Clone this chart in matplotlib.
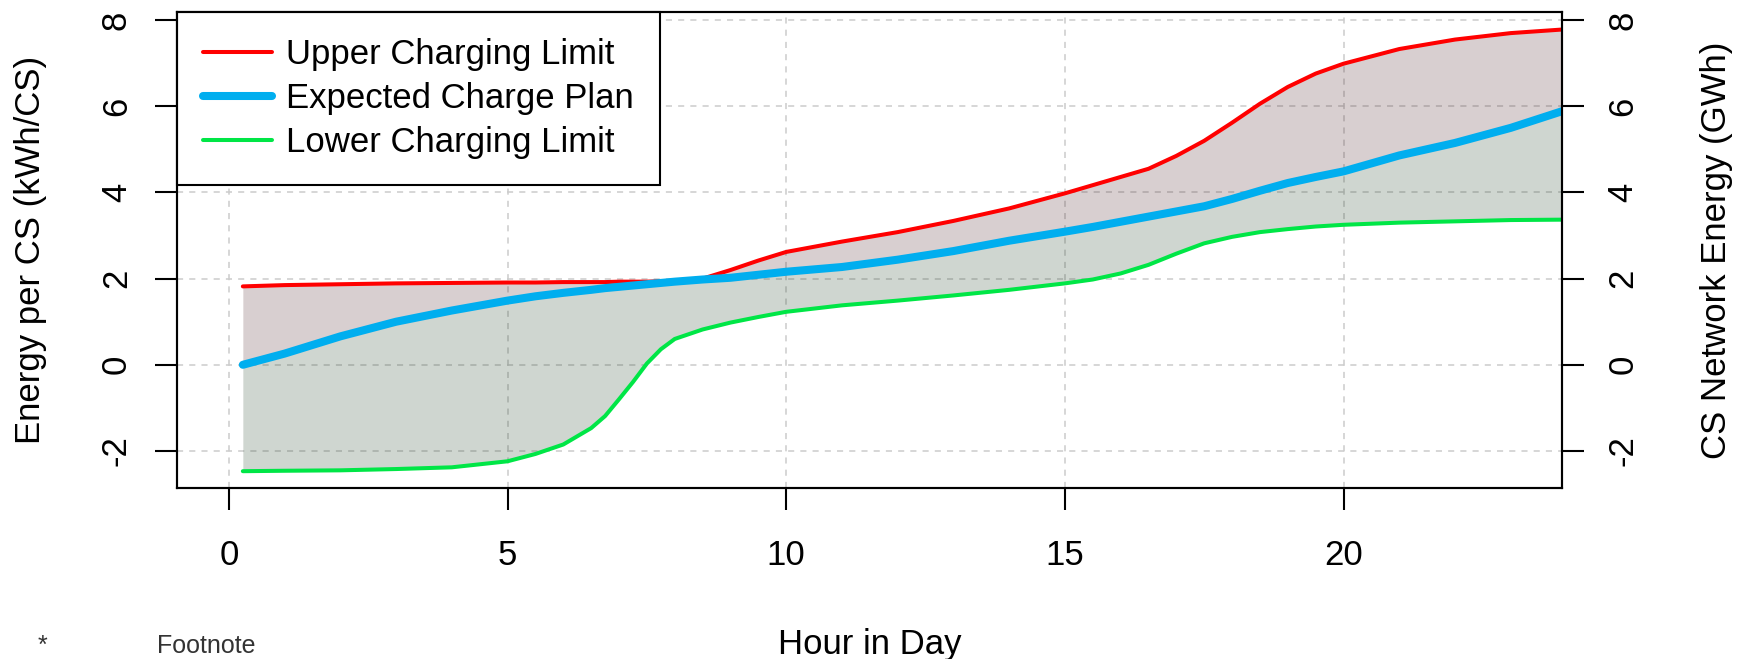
import matplotlib
matplotlib.use("Agg")
from matplotlib import pyplot as plt

plt.rcParams['font.family'] = ['Liberation Sans', 'DejaVu Sans']
plt.rcParams['axes.unicode_minus'] = False

# hour of day and the three curves (kWh per CS)
hours = [0.25, 1, 2, 3, 4, 5, 5.5, 6, 6.5, 6.75, 7, 7.25, 7.5, 7.75, 8, 8.5, 9, 9.5,
         10, 11, 12, 13, 14, 15, 15.5, 16, 16.5, 17, 17.5, 18, 18.5, 19, 19.5, 20,
         21, 22, 23, 24]
upper = [1.82, 1.85, 1.87, 1.89, 1.90, 1.91, 1.91, 1.92, 1.92, 1.92, 1.93, 1.93, 1.93,
         1.94, 1.95, 2.00, 2.20, 2.42, 2.62, 2.86, 3.08, 3.34, 3.63, 3.98, 4.17, 4.36,
         4.55, 4.85, 5.20, 5.62, 6.06, 6.45, 6.76, 6.99, 7.33, 7.55, 7.70, 7.79]
expected = [0.0, 0.26, 0.66, 1.0, 1.26, 1.49, 1.59, 1.67, 1.74, 1.78, 1.81, 1.84, 1.87,
            1.90, 1.93, 1.98, 2.02, 2.09, 2.16, 2.27, 2.44, 2.64, 2.88, 3.09, 3.20, 3.32,
            3.44, 3.56, 3.68, 3.85, 4.04, 4.22, 4.36, 4.49, 4.86, 5.15, 5.50, 5.92]
lower = [-2.47, -2.46, -2.45, -2.42, -2.38, -2.24, -2.07, -1.85, -1.47, -1.19, -0.80,
         -0.40, 0.03, 0.36, 0.60, 0.82, 0.98, 1.11, 1.23, 1.38, 1.49, 1.61, 1.74, 1.89,
         1.98, 2.12, 2.32, 2.58, 2.82, 2.97, 3.08, 3.15, 3.21, 3.25, 3.30, 3.33, 3.36, 3.37]

xticks = [0, 5, 10, 15, 20]
yticks = [-2, 0, 2, 4, 6, 8]

fig = plt.figure(figsize=(17.48, 6.59), dpi=100)
ax = fig.add_axes([0.1013, 0.2595, 0.7923, 0.7223])

ax.set_axisbelow(True)
ax.grid(True, color='#cccccc', linestyle=(0, (4, 4)), linewidth=1.1)

ax.fill_between(hours, expected, upper, color='#3c0f14', alpha=0.2, linewidth=0)
ax.fill_between(hours, lower, expected, color='#0f3214', alpha=0.2, linewidth=0)

ax.plot(hours, upper, color='#ff0000', lw=2.9, solid_capstyle='round', label='Upper Charging Limit')
ax.plot(hours, expected, color='#00aeef', lw=5.8, solid_capstyle='round', label='Expected Charge Plan')
ax.plot(hours, lower, color='#00e646', lw=2.9, solid_capstyle='round', label='Lower Charging Limit')

ax.set_xlim(-0.93, 23.92)
ax.set_ylim(-2.86, 8.19)
ax.set_xticks(xticks)
ax.set_yticks(yticks)

for s in ax.spines.values():
    s.set_linewidth(1.5)
ax.tick_params(axis='both', length=15.8, width=1.5, labelsize=25)
ax.tick_params(axis='x', pad=21)
ax.tick_params(axis='y', pad=16, labelrotation=90)
for t in ax.get_yticklabels():
    t.set_va('center')

ax.set_xlabel('Hour in Day', fontsize=25, labelpad=40)
ax.set_ylabel('Energy per CS (kWh/CS)', fontsize=25, labelpad=38)

ax2 = ax.twinx()
ax2.set_ylim(ax.get_ylim())
ax2.set_yticks(yticks)
for s in ax2.spines.values():
    s.set_linewidth(1.5)
ax2.tick_params(axis='y', length=15.8, width=1.5, labelsize=25, pad=16, labelrotation=90)
for t in ax2.get_yticklabels():
    t.set_va('center')
ax2.set_ylabel('CS Network Energy (GWh)', fontsize=25, labelpad=44)

leg = ax.legend(loc='upper left', bbox_to_anchor=(0, 1), borderaxespad=0, fontsize=25,
                fancybox=False, edgecolor='black', framealpha=1, borderpad=0.76,
                handlelength=1.96, handletextpad=0.42, labelspacing=0.31)
leg.get_frame().set_linewidth(1.5)
leg.set_zorder(10)

fig.text(42 / 1748, 1 - 646 / 659, '*', fontsize=18, color='#333333', ha='center', va='center')
fig.text(157 / 1748, 1 - 646 / 659, 'Footnote', fontsize=18, color='#333333', ha='left', va='center')

fig.savefig('out.png', dpi=100)
